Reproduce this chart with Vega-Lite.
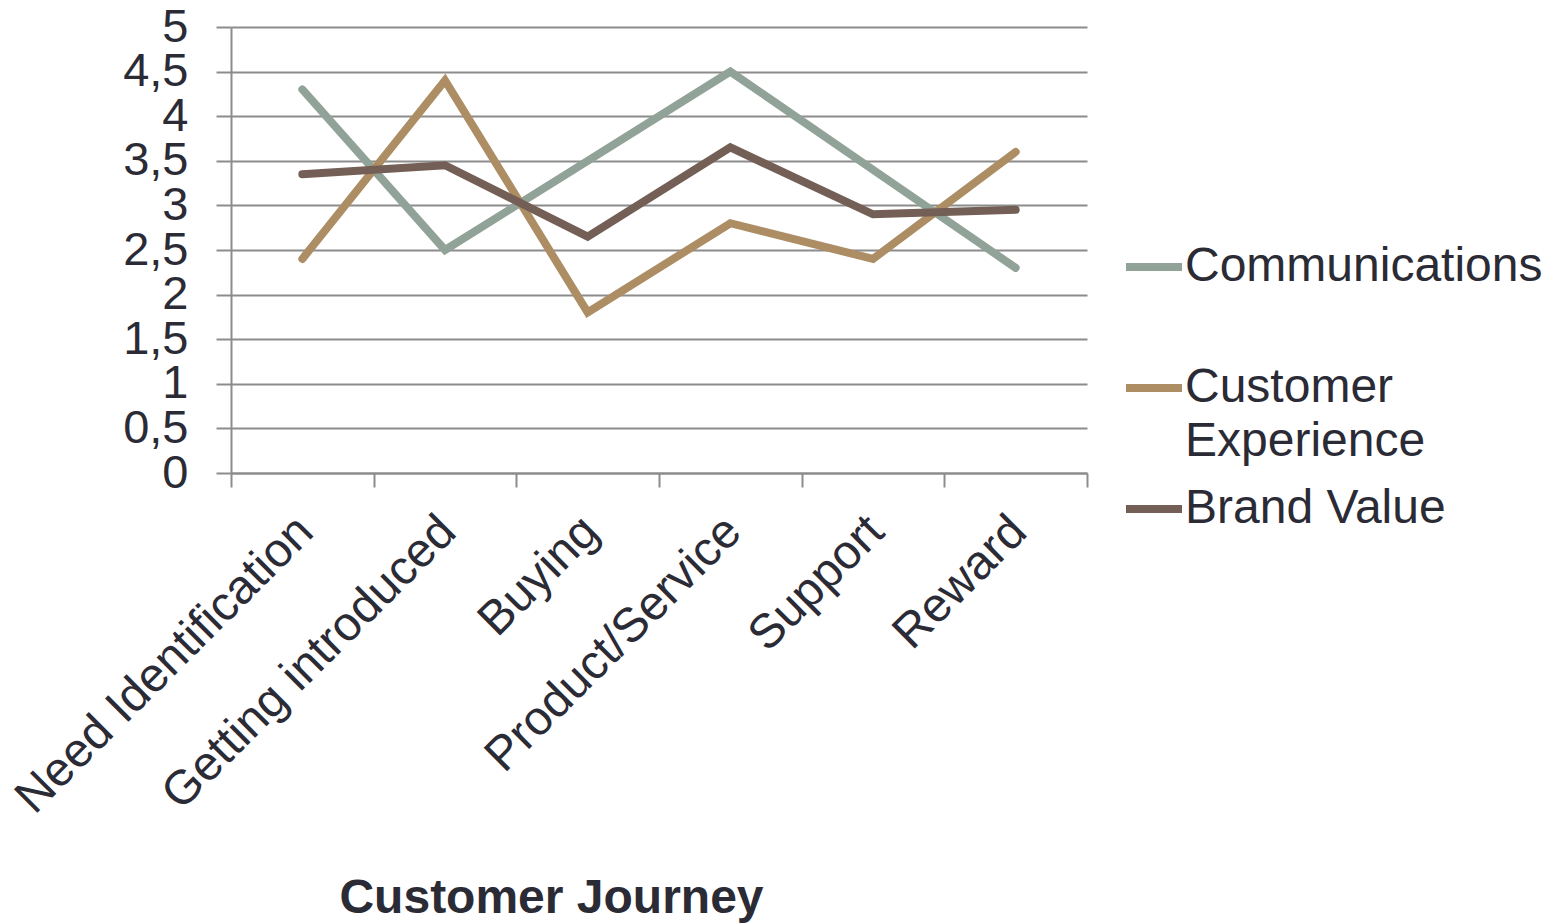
{
  "$schema": "https://vega.github.io/schema/vega-lite/v6.json",
  "width": 856,
  "height": 446,
  "autosize": "none",
  "padding": {"left": 231, "top": 27, "right": 463, "bottom": 450},
  "background": "white",
  "config": {
    "font": "Liberation Sans",
    "view": {"stroke": null},
    "axis": {
      "labelFont": "Liberation Sans",
      "labelColor": "#2B2B36",
      "titleColor": "#2B2B36",
      "domainColor": "#8C8C8C",
      "tickColor": "#8C8C8C",
      "gridColor": "#8C8C8C",
      "domainWidth": 2,
      "tickWidth": 2,
      "gridWidth": 2,
      "gridOpacity": 1
    }
  },
  "data": {
    "values": [
      {"stage": "Need Identification", "series": "Communications", "value": 4.3},
      {"stage": "Getting introduced", "series": "Communications", "value": 2.5},
      {"stage": "Buying", "series": "Communications", "value": 3.5},
      {"stage": "Product/Service", "series": "Communications", "value": 4.5},
      {"stage": "Support", "series": "Communications", "value": 3.4},
      {"stage": "Reward", "series": "Communications", "value": 2.3},
      {"stage": "Need Identification", "series": "Customer Experience", "value": 2.4},
      {"stage": "Getting introduced", "series": "Customer Experience", "value": 4.4},
      {"stage": "Buying", "series": "Customer Experience", "value": 1.8},
      {"stage": "Product/Service", "series": "Customer Experience", "value": 2.8},
      {"stage": "Support", "series": "Customer Experience", "value": 2.4},
      {"stage": "Reward", "series": "Customer Experience", "value": 3.6},
      {"stage": "Need Identification", "series": "Brand Value", "value": 3.35},
      {"stage": "Getting introduced", "series": "Brand Value", "value": 3.45},
      {"stage": "Buying", "series": "Brand Value", "value": 2.65},
      {"stage": "Product/Service", "series": "Brand Value", "value": 3.65},
      {"stage": "Support", "series": "Brand Value", "value": 2.9},
      {"stage": "Reward", "series": "Brand Value", "value": 2.95}
    ]
  },
  "mark": {"type": "line", "strokeWidth": 8, "strokeCap": "round", "strokeJoin": "miter"},
  "encoding": {
    "x": {
      "field": "stage",
      "type": "nominal",
      "sort": null,
      "scale": {"type": "band", "paddingInner": 0, "paddingOuter": 0},
      "axis": {
        "title": "Customer Journey",
        "titleFont": "Liberation Sans",
        "titleFontSize": 48,
        "titleFontWeight": "bold",
        "titleX": 320,
        "titleY": 439,
        "titleAlign": "center",
        "titleBaseline": "alphabetic",
        "labelAngle": -45,
        "labelFontSize": 48,
        "labelPadding": 20,
        "labelOffset": -14,
        "labelLimit": 0,
        "tickBand": "extent",
        "tickSize": 14,
        "domain": true,
        "grid": false
      }
    },
    "y": {
      "field": "value",
      "type": "quantitative",
      "scale": {"domain": [0, 5], "nice": false},
      "axis": {
        "title": null,
        "values": [0, 0.5, 1, 1.5, 2, 2.5, 3, 3.5, 4, 4.5, 5],
        "format": ".1~f",
        "labelExpr": "replace(datum.label, '.', ',')",
        "labelFontSize": 47,
        "labelPadding": 28,
        "labelOverlap": false,
        "tickSize": 15,
        "grid": true,
        "domain": true,
        "labelBaseline": "middle"
      }
    },
    "color": {
      "field": "series",
      "type": "nominal",
      "scale": {
        "domain": ["Communications", "Customer Experience", "Brand Value"],
        "range": ["#91A398", "#AD8E64", "#735F55"]
      },
      "legend": {
        "title": null,
        "orient": "none",
        "legendX": 891,
        "legendY": 208,
        "symbolType": "stroke",
        "symbolStrokeWidth": 8,
        "symbolSize": 3136,
        "labelFontSize": 48,
        "labelFont": "Liberation Sans",
        "labelColor": "#2B2B36",
        "labelLimit": 0,
        "labelOffset": -1,
        "rowPadding": 11,
        "labelExpr": "datum.label == 'Customer Experience' ? ['Customer', 'Experience'] : datum.label == 'Communications' ? ['Communications', ' '] : datum.label",
        "encode": {"labels": {"update": {"lineHeight": {"value": 54}}}}
      }
    }
  }
}
